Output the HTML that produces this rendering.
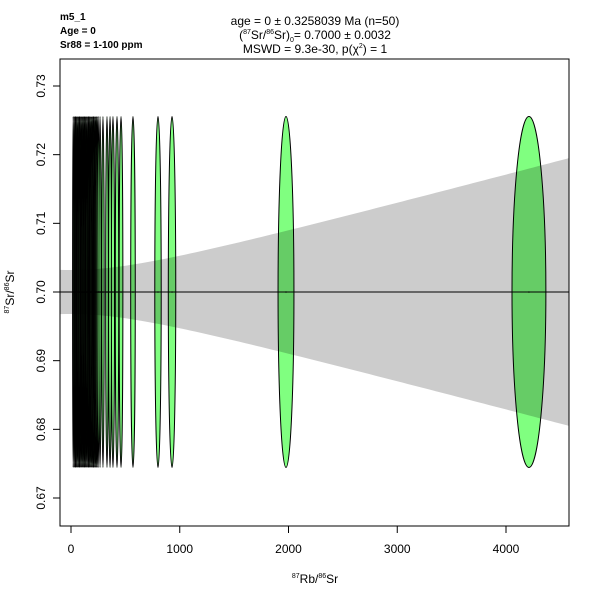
<!DOCTYPE html>
<html><head><meta charset="utf-8"><style>
body{margin:0;background:#fff}
svg{font-family:"Liberation Sans",Arial,sans-serif}
</style></head><body>
<svg id="c" width="600" height="600" viewBox="0 0 600 600">
<defs><clipPath id="clip"><rect x="60" y="59" width="509" height="467"/></clipPath></defs>
<g id="plot" clip-path="url(#clip)"></g>
<rect x="60" y="59" width="509" height="467" fill="none" stroke="#000"/>
<g id="axes"></g>
<text x="60" y="20" font-size="10" font-weight="bold">m5_1</text>
<text x="60" y="34" font-size="10" font-weight="bold">Age = 0</text>
<text x="60" y="48" font-size="10" font-weight="bold">Sr88 = 1-100 ppm</text>
<text x="315" y="25" font-size="12" text-anchor="middle">age = 0 ± 0.3258039 Ma (n=50)</text>
<text x="315" y="39" font-size="12" text-anchor="middle">(<tspan font-size="7" dy="-5">87</tspan><tspan dy="5">Sr/</tspan><tspan font-size="7" dy="-5">86</tspan><tspan dy="5">Sr)</tspan><tspan font-size="7" dy="3">0</tspan><tspan dy="-3">= 0.7000 ± 0.0032</tspan></text>
<text x="315" y="53" font-size="12" text-anchor="middle">MSWD = 9.3e-30, p(χ<tspan font-size="7" dy="-5">2</tspan><tspan dy="5">) = 1</tspan></text>
<text x="315" y="583" font-size="12" text-anchor="middle"><tspan font-size="7" dy="-5">87</tspan><tspan dy="5">Rb/</tspan><tspan font-size="7" dy="-5">86</tspan><tspan dy="5">Sr</tspan></text>
<text transform="translate(14,292) rotate(-90)" font-size="12" text-anchor="middle"><tspan font-size="7" dy="-5">87</tspan><tspan dy="5">Sr/</tspan><tspan font-size="7" dy="-5">86</tspan><tspan dy="5">Sr</tspan></text>
</svg>
<script>
const xVals=[20,30,38,45,52,60,68,75,82,90,97,105,112,120,128,135,142,150,158,165,172,180,188,195,203,210,218,225,232,240,250,267,294,331,359,386,423,460,570,800,929,1977,4211];
const yVals=xVals.map(()=>0.700);
const yHalf=0.02555;
const xTicks=[0,1000,2000,3000,4000];
const yTicks=[0.67,0.68,0.69,0.70,0.71,0.72,0.73];
const intercept=0.7000, slope=0, interceptErr=0.0032, slopeErr=4.2e-6;
const NS='http://www.w3.org/2000/svg';
const X=v=>71+v*0.10875;
const Y=v=>292-(v-0.70)*6866.7;
function mk(t,a,p){const e=document.createElementNS(NS,t);for(const k in a)e.setAttribute(k,a[k]);p.appendChild(e);return e;}
const plot=document.getElementById('plot'),axes=document.getElementById('axes');
xVals.forEach((x,i)=>{
 const e=mk('ellipse',{cx:X(x),cy:Y(yVals[i]),rx:Math.max(0.6,X(x*1.037)-X(x)),ry:Y(0.70)-Y(0.70+yHalf),fill:'#80ff80',stroke:'#000','stroke-width':1},plot);
 
 
});
let up=[],lo=[];
for(let v=-200;v<=4800;v+=50){const h=Math.sqrt(interceptErr*interceptErr+(slopeErr*v)**2);const m=intercept+slope*v;up.push(X(v)+','+Y(m+h));lo.unshift(X(v)+','+Y(m-h));}
const band=mk('polygon',{points:up.concat(lo).join(' '),fill:'rgba(0,0,0,0.2)'},plot);


const ln=mk('line',{x1:X(-200),y1:Y(intercept+slope*-200),x2:X(4800),y2:Y(intercept+slope*4800),stroke:'#000','stroke-width':1},plot);


xVals.forEach((x,i)=>{const d=mk('circle',{cx:X(x),cy:Y(yVals[i]),r:0.8,fill:'#000'},plot);
 
 });
xTicks.forEach(t=>{
 const l=mk('line',{x1:X(t),y1:526,x2:X(t),y2:533,stroke:'#000'},axes);
 
 
 const s=mk('text',{x:X(t),y:553,'font-size':12,'text-anchor':'middle'},axes);s.textContent=t;
 
 
});
yTicks.forEach(t=>{
 const l=mk('line',{x1:53,y1:Y(t),x2:60,y2:Y(t),stroke:'#000'},axes);
 
 
 const s=mk('text',{transform:`translate(45,${Y(t)}) rotate(-90)`,'font-size':12,'text-anchor':'middle'},axes);s.textContent=t.toFixed(2);
 
 
});
</script>
</body></html>
